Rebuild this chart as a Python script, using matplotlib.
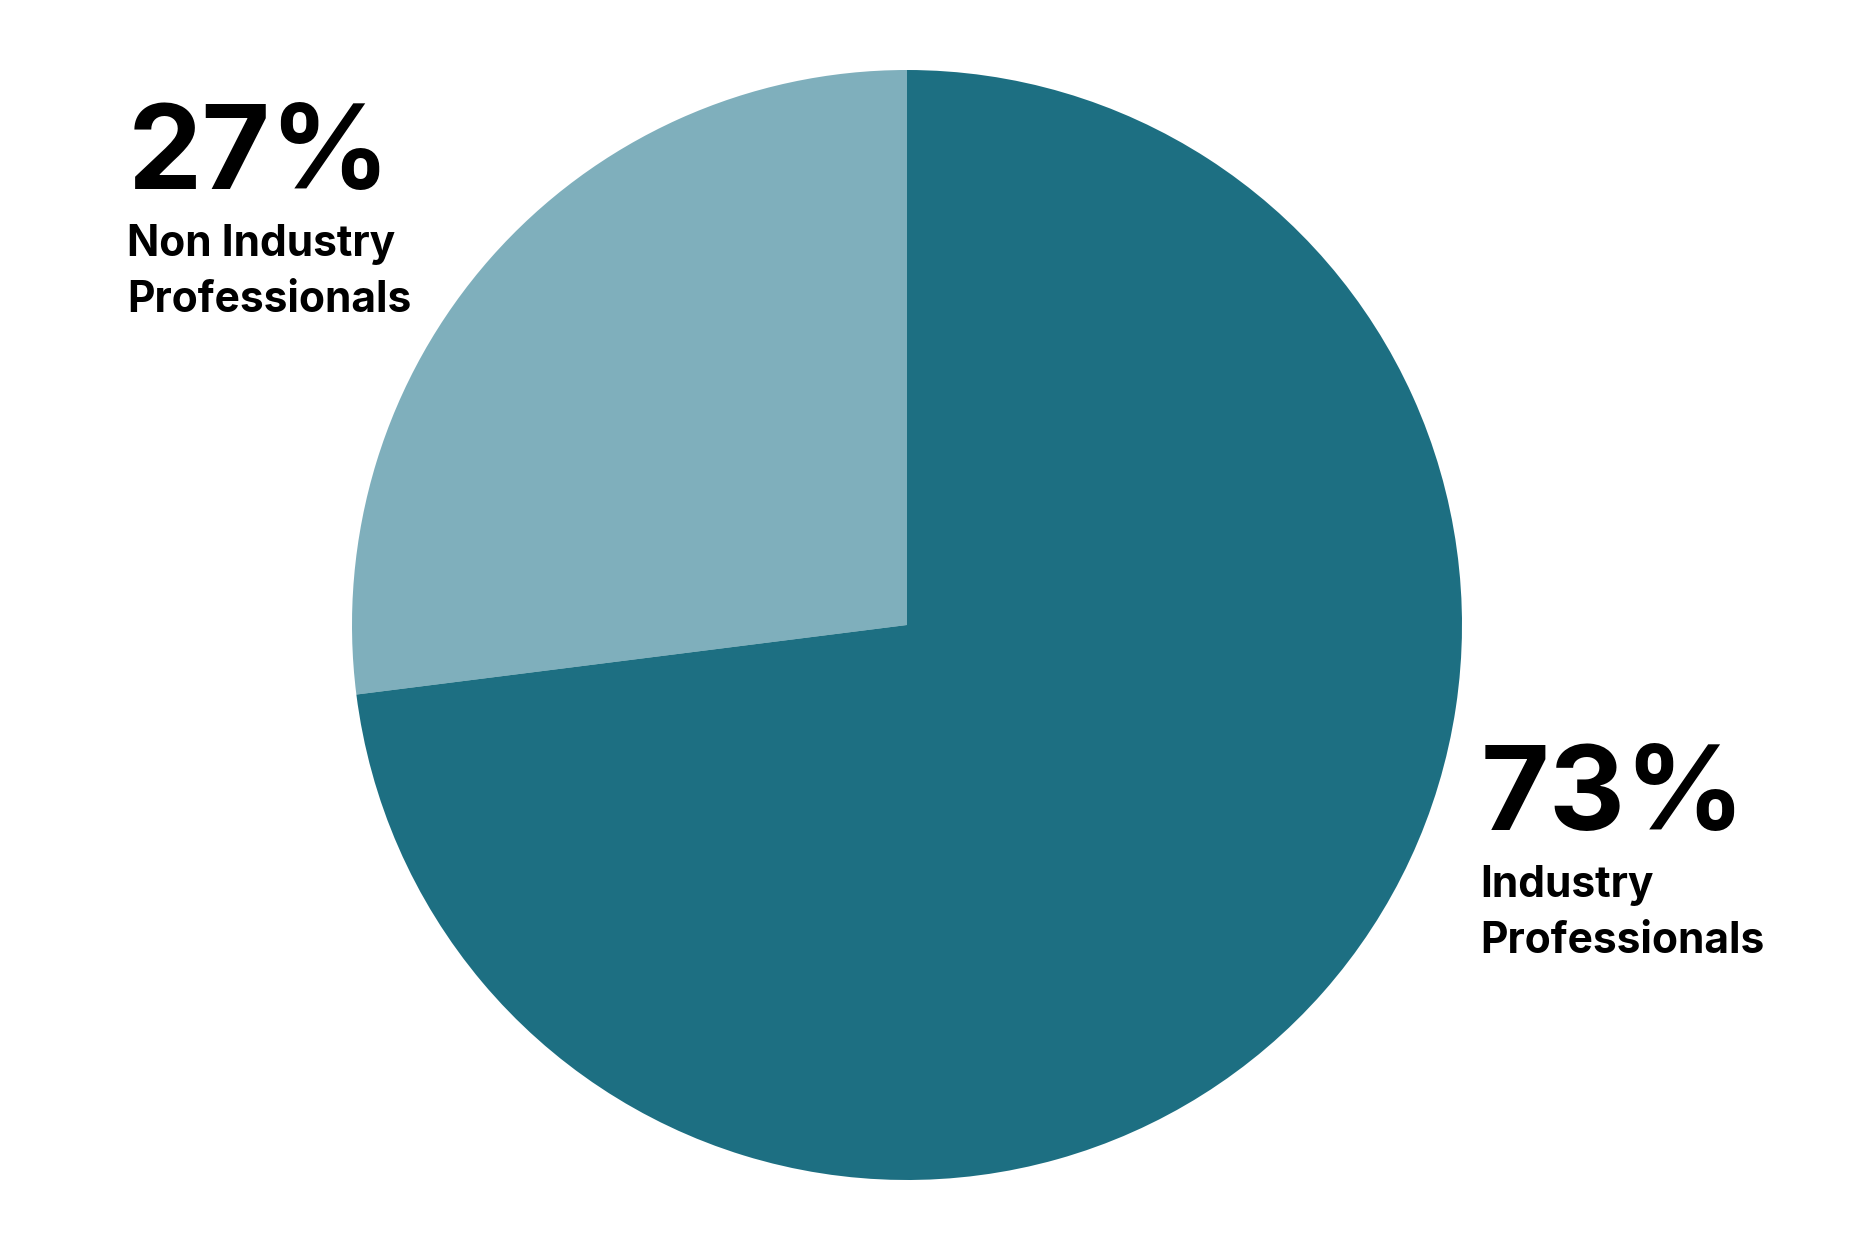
import matplotlib.pyplot as plt

# Data
groups = ['Non Industry Professionals', 'Industry Professionals']
shares = [27, 73]
label_lines = [['Non Industry', 'Professionals'], ['Industry', 'Professionals']]
colors = ['#7fafbc', '#1d6f82']

W, H = 1875, 1250
plt.rcParams['font.family'] = ['Inter', 'DejaVu Sans']

fig = plt.figure(figsize=(W / 100, H / 100), dpi=100)
ax = fig.add_axes([0, 0, 1, 1])

# pie in pixel coordinates (y measured from bottom)
ax.pie(shares, colors=colors, startangle=90, counterclock=True,
       center=(907, H - 625), radius=555,
       wedgeprops=dict(linewidth=0))
ax.set_xlim(0, W)
ax.set_ylim(0, H)
ax.set_aspect('equal')
ax.axis('off')

# label blocks: (left x, baseline of percent, baseline of first text line) in px from top
positions = [(128, 189, 256), (1481, 830, 897)]
for share, lines, (x, y_pct, y_txt) in zip(shares, label_lines, positions):
    fig.text(x / W, 1 - y_pct / H, '{}%'.format(share), fontsize=85,
             fontweight='bold', ha='left', va='baseline', color='black')
    for i, line in enumerate(lines):
        fig.text((x - 1) / W, 1 - (y_txt + 56 * i) / H, line, fontsize=30.6,
                 fontweight='bold', ha='left', va='baseline', color='black')

fig.savefig('out.png', dpi=100)
